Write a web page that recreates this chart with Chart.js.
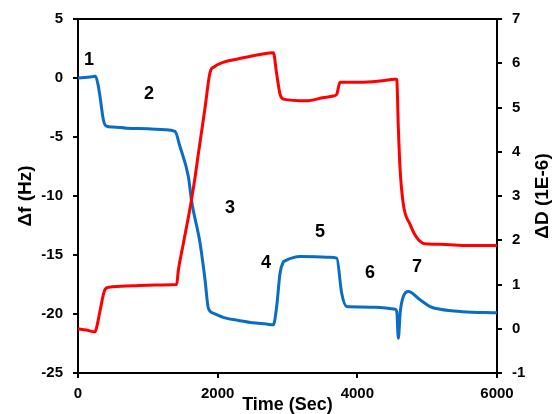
<!DOCTYPE html>
<html>
<head>
<meta charset="utf-8">
<script src="https://cdn.jsdelivr.net/npm/chart.js@4.4.1/dist/chart.umd.min.js"></script>
<style>
html,body{margin:0;padding:0;background:#ffffff;}
#wrap{width:555px;height:414px;}
</style>
</head>
<body>
<div id="wrap"><canvas id="c" width="555" height="414"></canvas></div>
<script>
// Δf (Hz), left axis
const freqTime  = [0, 100, 200, 250, 285, 315, 363, 401, 500, 700, 1000, 1246, 1389, 1461, 1580, 1628, 1747, 1819, 1866, 1938, 2105, 2300, 2500, 2700, 2797, 2845, 2893, 2940, 2964, 3179, 3400, 3600, 3705, 3776, 3848, 4038, 4325, 4540, 4565, 4587, 4615, 4660, 4730, 4898, 5041, 5184, 5500, 6000];
const freqShift = [0, 0.05, 0.1, 0.15, -0.5, -1.56, -3.54, -4.05, -4.15, -4.25, -4.3, -4.39, -4.53, -5.83, -8.35, -10.47, -13.97, -17.1, -19.5, -19.93, -20.33, -20.55, -20.75, -20.85, -20.92, -19.37, -16.54, -15.6, -15.5, -15.13, -15.15, -15.2, -15.27, -18.24, -19.37, -19.4, -19.45, -19.6, -19.8, -22.05, -19.8, -18.5, -18.1, -18.8, -19.37, -19.6, -19.8, -19.9];
// ΔD (1E-6), right axis
const dissTime  = [0, 120, 244, 270, 315, 387, 450, 790, 1100, 1413, 1436, 1508, 1618, 1675, 1723, 1819, 1890, 1950, 2076, 2300, 2606, 2797, 2845, 2893, 2940, 3275, 3500, 3656, 3705, 3752, 4038, 4325, 4540, 4564, 4587, 4611, 4659, 4755, 4851, 4970, 5184, 5600, 6000];
const dissShift = [0, -0.03, -0.07, 0.05, 0.40, 0.89, 0.94, 0.97, 0.99, 1.0, 1.31, 1.92, 2.85, 3.41, 3.95, 4.99, 5.79, 5.92, 6.02, 6.1, 6.2, 6.24, 5.76, 5.3, 5.19, 5.15, 5.22, 5.26, 5.3, 5.57, 5.57, 5.6, 5.64, 5.64, 4.55, 3.64, 2.81, 2.36, 2.06, 1.92, 1.91, 1.88, 1.88];

// step annotations (placed in Time / Δf coordinates)
const stepLabels = ['1', '2', '3', '4', '5', '6', '7'];
const stepTime   = [158, 1017, 2177, 2692, 3466, 4182, 4855];
const stepFreq   = [1.53, -1.36, -11.0, -15.7, -13.05, -16.5, -16.0];

const xTitle = 'Time (Sec)';
const leftTitle = 'Δf (Hz)';
const rightTitle = 'ΔD (1E-6)';

const FONT = "'Liberation Sans', Arial, Helvetica, sans-serif";
const tickFont = {family: FONT, size: 15, weight: 'bold'};

const overlay = {
  id: 'overlay',
  afterDatasetsDraw(chart) {
    const ctx = chart.ctx;
    const xs = chart.scales.x, ys = chart.scales.yF;
    ctx.save();
    ctx.fillStyle = '#000';
    ctx.font = "bold 18px " + FONT;
    ctx.textAlign = 'center';
    ctx.textBaseline = 'middle';
    stepLabels.forEach((s, i) => {
      ctx.fillText(s, xs.getPixelForValue(stepTime[i]), ys.getPixelForValue(stepFreq[i]));
    });
    ctx.restore();
  },
  afterDraw(chart) {
    const ctx = chart.ctx;
    const ca = chart.chartArea;
    ctx.save();
    ctx.fillStyle = '#000';
    ctx.font = "bold 19px " + FONT;
    ctx.textAlign = 'center';
    ctx.textBaseline = 'middle';
    ctx.translate(543, (ca.top + ca.bottom) / 2);
    ctx.rotate(-Math.PI / 2);
    ctx.fillText(rightTitle, 0, 0);
    ctx.restore();
  }
};

const axisGrid = {drawOnChartArea: false, drawTicks: true, tickLength: 5, color: '#000', lineWidth: 2};
const axisBorder = {display: true, color: '#000', width: 2};

new Chart(document.getElementById('c'), {
  type: 'line',
  data: {
    datasets: [
      {
        label: rightTitle,
        data: dissTime.map((t, i) => ({x: t, y: dissShift[i]})),
        yAxisID: 'yD',
        borderColor: '#ff0000',
        borderWidth: 3,
        pointRadius: 0,
        cubicInterpolationMode: 'monotone',
        fill: false,
        order: 0
      },
      {
        label: leftTitle,
        data: freqTime.map((t, i) => ({x: t, y: freqShift[i]})),
        yAxisID: 'yF',
        borderColor: '#0a6cc4',
        borderWidth: 3,
        pointRadius: 0,
        cubicInterpolationMode: 'monotone',
        fill: false,
        order: 1
      }
    ]
  },
  options: {
    responsive: false,
    animation: false,
    devicePixelRatio: 1,
    layout: {padding: 0},
    plugins: {legend: {display: false}, tooltip: {enabled: false}},
    scales: {
      x: {
        type: 'linear', position: 'bottom', min: 0, max: 6000,
        ticks: {stepSize: 2000, color: '#000', font: tickFont, padding: 7, maxRotation: 0, callback: v => String(v)},
        grid: axisGrid, border: axisBorder,
        title: {display: true, text: xTitle, color: '#000', font: {family: FONT, size: 18, weight: 'bold', lineHeight: 1.0}, padding: {top: 0, bottom: 0}},
        afterFit: s => { s.height = 41; }
      },
      xTop: {
        type: 'linear', position: 'top', min: 0, max: 6000,
        ticks: {display: false},
        grid: {display: false},
        border: axisBorder,
        afterFit: s => { s.height = 19; }
      },
      yF: {
        type: 'linear', position: 'left', min: -25, max: 5,
        ticks: {stepSize: 5, color: '#000', font: tickFont, padding: 10, callback: v => String(v)},
        grid: axisGrid, border: axisBorder,
        title: {display: true, text: leftTitle, color: '#000', font: {family: FONT, size: 19, weight: 'bold', lineHeight: 1.2}, padding: {top: 14, bottom: 0}},
        afterFit: s => { s.width = 78; }
      },
      yD: {
        type: 'linear', position: 'right', min: -1, max: 7,
        ticks: {stepSize: 1, color: '#000', font: tickFont, padding: 10, callback: v => String(v)},
        grid: axisGrid, border: axisBorder,
        afterFit: s => { s.width = 58; }
      }
    }
  },
  plugins: [overlay]
});
</script>
</body>
</html>
